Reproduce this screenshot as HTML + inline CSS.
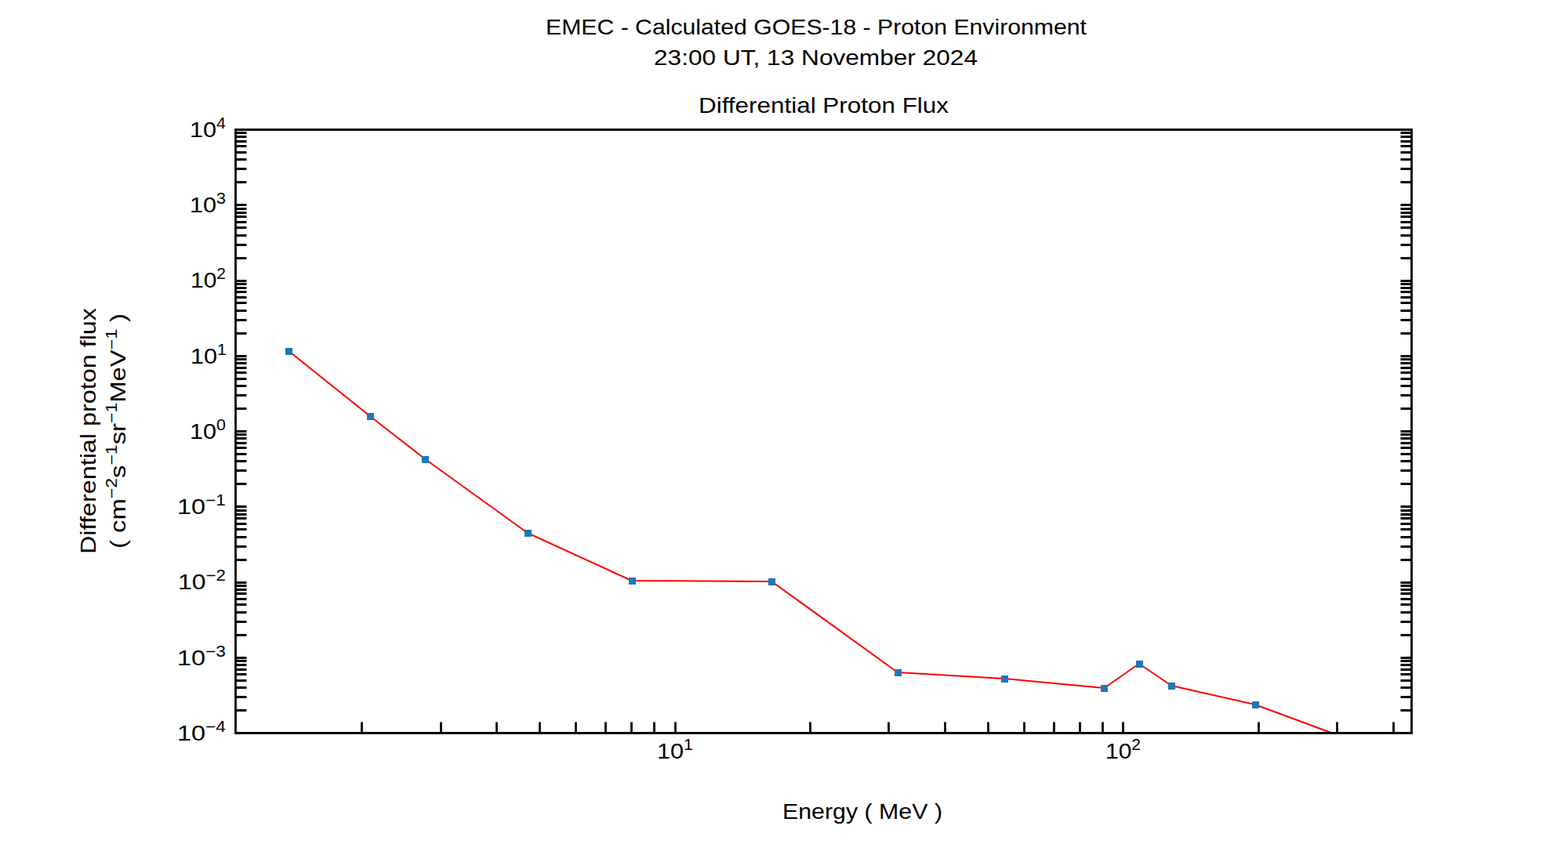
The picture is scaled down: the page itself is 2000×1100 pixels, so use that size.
<!DOCTYPE html>
<html lang="en">
<head>
<meta charset="utf-8">
<title>EMEC - Calculated GOES-18 - Proton Environment</title>
<style>
html,body{margin:0;padding:0;background:#fff;}
body{width:2000px;height:1100px;overflow:hidden;font-family:"Liberation Sans",sans-serif;}
svg{display:block;position:absolute;left:0;top:0;}
.tk{stroke:#000;stroke-width:2.78;stroke-linecap:butt;fill:none;}
.sp{stroke:#000;stroke-width:2.78;stroke-linecap:square;fill:none;}
.ln{stroke:#f00;stroke-width:2.08;stroke-linejoin:round;stroke-linecap:butt;fill:none;}
.mk{fill:#1f77b4;stroke:none;}
.t text{font-family:"Liberation Sans",sans-serif;font-size:27.78px;fill:#000;stroke:none;}
</style>
</head>
<body>
<svg width="2000" height="1100" viewBox="0 0 2000 1100" role="img" aria-label="Differential proton flux versus energy, GOES-18, 23:00 UT 13 November 2024">
<rect x="0" y="0" width="2000" height="1100" fill="#fff"/>
<defs><clipPath id="axclip"><rect x="300" y="165" width="1500" height="770"/></clipPath></defs>
<path class="tk" d="M300.5 165.5H314.5M1786.5 165.5H1800.5M300.5 169.5H314.5M1786.5 169.5H1800.5M300.5 174.5H314.5M1786.5 174.5H1800.5M300.5 180.5H314.5M1786.5 180.5H1800.5M300.5 186.5H314.5M1786.5 186.5H1800.5M300.5 194.5H314.5M1786.5 194.5H1800.5M300.5 203.5H314.5M1786.5 203.5H1800.5M300.5 215.5H314.5M1786.5 215.5H1800.5M300.5 232.5H314.5M1786.5 232.5H1800.5M300.5 261.5H314.5M1786.5 261.5H1800.5M300.5 266.5H314.5M1786.5 266.5H1800.5M300.5 271.5H314.5M1786.5 271.5H1800.5M300.5 276.5H314.5M1786.5 276.5H1800.5M300.5 283.5H314.5M1786.5 283.5H1800.5M300.5 290.5H314.5M1786.5 290.5H1800.5M300.5 300.5H314.5M1786.5 300.5H1800.5M300.5 312.5H314.5M1786.5 312.5H1800.5M300.5 329.5H314.5M1786.5 329.5H1800.5M300.5 358.5H314.5M1786.5 358.5H1800.5M300.5 362.5H314.5M1786.5 362.5H1800.5M300.5 367.5H314.5M1786.5 367.5H1800.5M300.5 372.5H314.5M1786.5 372.5H1800.5M300.5 379.5H314.5M1786.5 379.5H1800.5M300.5 386.5H314.5M1786.5 386.5H1800.5M300.5 396.5H314.5M1786.5 396.5H1800.5M300.5 408.5H314.5M1786.5 408.5H1800.5M300.5 425.5H314.5M1786.5 425.5H1800.5M300.5 454.5H314.5M1786.5 454.5H1800.5M300.5 458.5H314.5M1786.5 458.5H1800.5M300.5 463.5H314.5M1786.5 463.5H1800.5M300.5 469.5H314.5M1786.5 469.5H1800.5M300.5 475.5H314.5M1786.5 475.5H1800.5M300.5 483.5H314.5M1786.5 483.5H1800.5M300.5 492.5H314.5M1786.5 492.5H1800.5M300.5 504.5H314.5M1786.5 504.5H1800.5M300.5 521.5H314.5M1786.5 521.5H1800.5M300.5 550.5H314.5M1786.5 550.5H1800.5M300.5 554.5H314.5M1786.5 554.5H1800.5M300.5 559.5H314.5M1786.5 559.5H1800.5M300.5 565.5H314.5M1786.5 565.5H1800.5M300.5 571.5H314.5M1786.5 571.5H1800.5M300.5 579.5H314.5M1786.5 579.5H1800.5M300.5 588.5H314.5M1786.5 588.5H1800.5M300.5 600.5H314.5M1786.5 600.5H1800.5M300.5 617.5H314.5M1786.5 617.5H1800.5M300.5 646.5H314.5M1786.5 646.5H1800.5M300.5 651.5H314.5M1786.5 651.5H1800.5M300.5 656.5H314.5M1786.5 656.5H1800.5M300.5 661.5H314.5M1786.5 661.5H1800.5M300.5 668.5H314.5M1786.5 668.5H1800.5M300.5 675.5H314.5M1786.5 675.5H1800.5M300.5 685.5H314.5M1786.5 685.5H1800.5M300.5 697.5H314.5M1786.5 697.5H1800.5M300.5 714.5H314.5M1786.5 714.5H1800.5M300.5 743.5H314.5M1786.5 743.5H1800.5M300.5 747.5H314.5M1786.5 747.5H1800.5M300.5 752.5H314.5M1786.5 752.5H1800.5M300.5 757.5H314.5M1786.5 757.5H1800.5M300.5 764.5H314.5M1786.5 764.5H1800.5M300.5 771.5H314.5M1786.5 771.5H1800.5M300.5 781.5H314.5M1786.5 781.5H1800.5M300.5 793.5H314.5M1786.5 793.5H1800.5M300.5 810.5H314.5M1786.5 810.5H1800.5M300.5 839.5H314.5M1786.5 839.5H1800.5M300.5 843.5H314.5M1786.5 843.5H1800.5M300.5 848.5H314.5M1786.5 848.5H1800.5M300.5 854.5H314.5M1786.5 854.5H1800.5M300.5 860.5H314.5M1786.5 860.5H1800.5M300.5 868.5H314.5M1786.5 868.5H1800.5M300.5 877.5H314.5M1786.5 877.5H1800.5M300.5 889.5H314.5M1786.5 889.5H1800.5M300.5 906.5H314.5M1786.5 906.5H1800.5M300.5 935.5H314.5M1786.5 935.5H1800.5"/>
<path class="tk" d="M461.5 935.5V921.5M562.5 935.5V921.5M633.5 935.5V921.5M688.5 935.5V921.5M734.5 935.5V921.5M772.5 935.5V921.5M805.5 935.5V921.5M834.5 935.5V921.5M861.5 935.5V921.5M1033.5 935.5V921.5M1133.5 935.5V921.5M1205.5 935.5V921.5M1260.5 935.5V921.5M1306.5 935.5V921.5M1344.5 935.5V921.5M1377.5 935.5V921.5M1406.5 935.5V921.5M1432.5 935.5V921.5M1605.5 935.5V921.5M1705.5 935.5V921.5M1777.5 935.5V921.5"/>
<g clip-path="url(#axclip)"><polyline class="ln" points="368.27,448 471.88,531 542.46,586 672.76,680 805.64,741 984.32,742 1144.86,858 1281.18,866 1408.46,878 1452.86,847 1494.2,875 1600.53,899 1731.87,947.6"/></g>
<g class="mk"><rect x="364" y="444" width="9" height="9"/><rect x="468" y="527" width="9" height="9"/><rect x="538" y="582" width="9" height="9"/><rect x="669" y="676" width="9" height="9"/><rect x="802" y="737" width="9" height="9"/><rect x="980" y="738" width="9" height="9"/><rect x="1141" y="854" width="9" height="9"/><rect x="1277" y="862" width="9" height="9"/><rect x="1404" y="874" width="9" height="9"/><rect x="1449" y="843" width="9" height="9"/><rect x="1490" y="871" width="9" height="9"/><rect x="1597" y="895" width="9" height="9"/></g>
<path class="sp" d="M300.5 165.5H1800.5M300.5 935.5H1800.5M300.5 165.5V935.5M1800.5 165.5V935.5"/>
<g class="t">
<text x="696" y="44" textLength="690" lengthAdjust="spacingAndGlyphs">EMEC - Calculated GOES-18 - Proton Environment</text>
<text x="834" y="83" textLength="413" lengthAdjust="spacingAndGlyphs">23:00 UT, 13 November 2024</text>
<text x="891" y="144" textLength="319" lengthAdjust="spacingAndGlyphs">Differential Proton Flux</text>
<text x="998" y="1045" textLength="204" lengthAdjust="spacingAndGlyphs">Energy ( MeV )</text>
<text x="242" y="175" textLength="46" lengthAdjust="spacingAndGlyphs">10<tspan dy="-11" font-size="19.45px">4</tspan></text>
<text x="242" y="271" textLength="46" lengthAdjust="spacingAndGlyphs">10<tspan dy="-11" font-size="19.45px">3</tspan></text>
<text x="243" y="367" textLength="45" lengthAdjust="spacingAndGlyphs">10<tspan dy="-11" font-size="19.45px">2</tspan></text>
<text x="243" y="464" textLength="46" lengthAdjust="spacingAndGlyphs">10<tspan dy="-11" font-size="19.45px">1</tspan></text>
<text x="242" y="560" textLength="46" lengthAdjust="spacingAndGlyphs">10<tspan dy="-11" font-size="19.45px">0</tspan></text>
<text x="226" y="656" textLength="62" lengthAdjust="spacingAndGlyphs">10<tspan dy="-11" font-size="19.45px">−1</tspan></text>
<text x="227" y="752" textLength="61" lengthAdjust="spacingAndGlyphs">10<tspan dy="-11" font-size="19.45px">−2</tspan></text>
<text x="226" y="849" textLength="62" lengthAdjust="spacingAndGlyphs">10<tspan dy="-11" font-size="19.45px">−3</tspan></text>
<text x="226" y="945" textLength="62" lengthAdjust="spacingAndGlyphs">10<tspan dy="-11" font-size="19.45px">−4</tspan></text>
<text x="838" y="968" textLength="46" lengthAdjust="spacingAndGlyphs">10<tspan dy="-11" font-size="19.45px">1</tspan></text>
<text x="1410" y="968" textLength="45" lengthAdjust="spacingAndGlyphs">10<tspan dy="-11" font-size="19.45px">2</tspan></text>
<text transform="translate(122 707) rotate(-90)" textLength="314" lengthAdjust="spacingAndGlyphs">Differential proton flux</text>
<text transform="translate(160 700) rotate(-90)" textLength="300" lengthAdjust="spacingAndGlyphs">( cm<tspan dy="-11" font-size="19.45px">−2</tspan><tspan dy="11">s</tspan><tspan dy="-11" font-size="19.45px">−1</tspan><tspan dy="11">sr</tspan><tspan dy="-11" font-size="19.45px">−1</tspan><tspan dy="11">MeV</tspan><tspan dy="-11" font-size="19.45px">−1</tspan><tspan dy="11"> )</tspan></text>
</g>
</svg>
</body>
</html>
